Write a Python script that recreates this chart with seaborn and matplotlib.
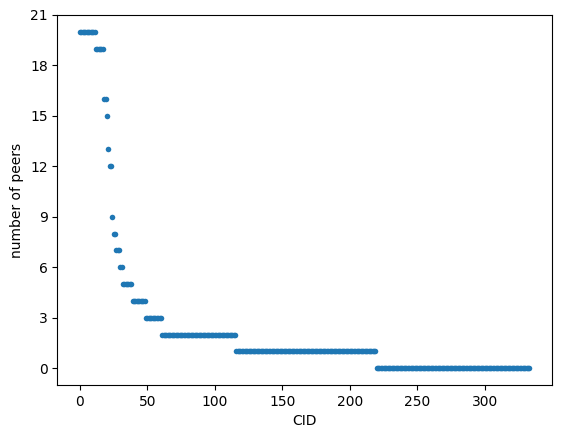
import numpy as np
import pandas as pd
import seaborn as sns
import matplotlib.pyplot as plt

# number of peers per CID, sorted descending (run-length: level, count)
peer_levels = [20, 19, 16, 15, 13, 12, 9, 8, 7, 6, 5, 4, 3, 2, 1, 0]
level_counts = [12, 6, 2, 1, 1, 2, 1, 2, 3, 2, 7, 10, 12, 55, 104, 114]

peers = np.repeat(peer_levels, level_counts)
df = pd.DataFrame({'CID': np.arange(len(peers)), 'number of peers': peers})

fig = plt.figure(figsize=(5.63, 4.38), dpi=100)
ax = fig.add_axes([0.102, 0.121, 0.878, 0.845])
sns.scatterplot(data=df, x='CID', y='number of peers', ax=ax,
                s=16, linewidth=0, color='#1f77b4')

ax.set_yticks(range(0, 22, 3))
ax.set_xticks(range(0, 301, 50))
ax.set_xlabel('CID')
ax.set_ylabel('number of peers')

plt.savefig('out.png', dpi=100)
